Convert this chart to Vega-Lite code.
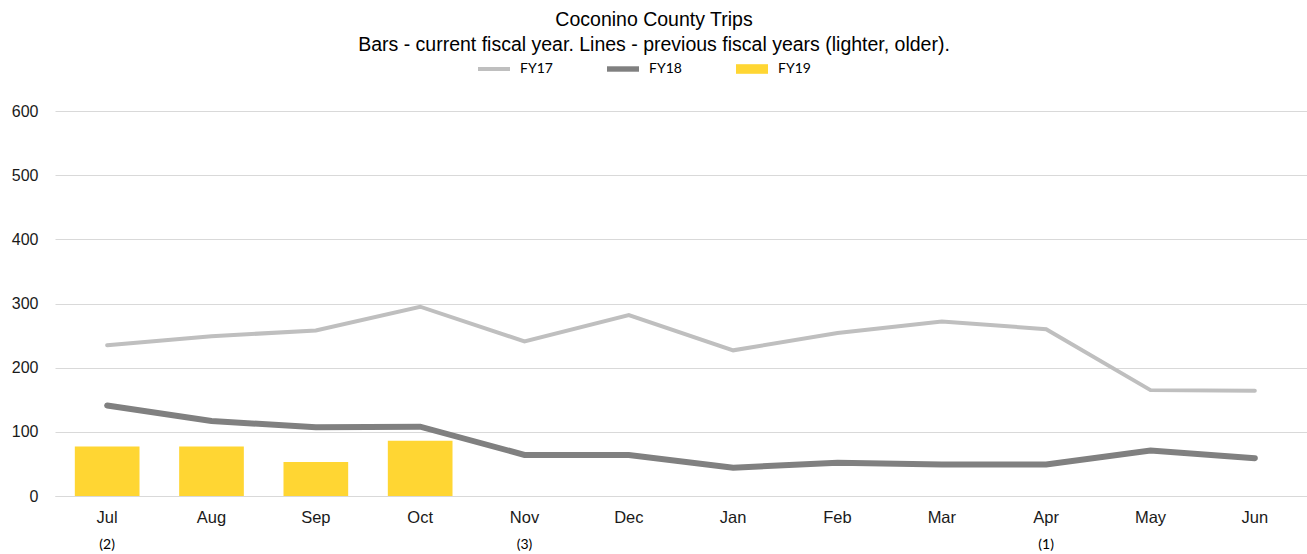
{
  "$schema": "https://vega.github.io/schema/vega-lite/v6.json",
  "autosize": "none",
  "width": 1252,
  "height": 385,
  "padding": {"left": 55, "top": 111, "right": 0, "bottom": 58},
  "background": "white",
  "config": {
    "view": {"stroke": null},
    "font": "Liberation Sans"
  },
  "title": {
    "text": ["Coconino County Trips", "Bars - current fiscal year. Lines - previous fiscal years (lighter, older)."],
    "font": "Liberation Sans",
    "fontSize": 19.5,
    "fontWeight": "normal",
    "color": "#000000",
    "lineHeight": 25,
    "anchor": "middle",
    "dx": -27,
    "offset": -2
  },
  "data": {
    "values": [
      {"month": "Jul", "year": "FY17", "value": 235},
      {"month": "Aug", "year": "FY17", "value": 249},
      {"month": "Sep", "year": "FY17", "value": 258},
      {"month": "Oct", "year": "FY17", "value": 295},
      {"month": "Nov", "year": "FY17", "value": 241},
      {"month": "Dec", "year": "FY17", "value": 282},
      {"month": "Jan", "year": "FY17", "value": 227},
      {"month": "Feb", "year": "FY17", "value": 254},
      {"month": "Mar", "year": "FY17", "value": 272},
      {"month": "Apr", "year": "FY17", "value": 260},
      {"month": "May", "year": "FY17", "value": 165},
      {"month": "Jun", "year": "FY17", "value": 164},
      {"month": "Jul", "year": "FY18", "value": 141},
      {"month": "Aug", "year": "FY18", "value": 117},
      {"month": "Sep", "year": "FY18", "value": 107},
      {"month": "Oct", "year": "FY18", "value": 108},
      {"month": "Nov", "year": "FY18", "value": 64},
      {"month": "Dec", "year": "FY18", "value": 64},
      {"month": "Jan", "year": "FY18", "value": 44},
      {"month": "Feb", "year": "FY18", "value": 52},
      {"month": "Mar", "year": "FY18", "value": 49},
      {"month": "Apr", "year": "FY18", "value": 49},
      {"month": "May", "year": "FY18", "value": 71},
      {"month": "Jun", "year": "FY18", "value": 59},
      {"month": "Jul", "year": "FY19", "value": 77},
      {"month": "Aug", "year": "FY19", "value": 77},
      {"month": "Sep", "year": "FY19", "value": 53},
      {"month": "Oct", "year": "FY19", "value": 86}
    ]
  },
  "encoding": {
    "x": {
      "field": "month",
      "type": "nominal",
      "sort": ["Jul", "Aug", "Sep", "Oct", "Nov", "Dec", "Jan", "Feb", "Mar", "Apr", "May", "Jun"],
      "scale": {"paddingInner": 0.38, "paddingOuter": 0.19},
      "title": null
    },
    "y": {
      "field": "value",
      "type": "quantitative",
      "scale": {"domain": [0, 600]},
      "title": null,
      "axis": {
        "values": [0, 100, 200, 300, 400, 500, 600],
        "domain": false,
        "ticks": false,
        "labelPadding": 17,
        "labelFont": "Liberation Sans",
        "labelFontSize": 16,
        "labelColor": "#1a1a1a",
        "gridColor": "#d9d9d9",
        "gridWidth": 1
      }
    },
    "color": {
      "field": "year",
      "type": "nominal",
      "scale": {"domain": ["FY17", "FY18", "FY19"], "range": ["#bfbfbf", "#808080", "#ffd633"]},
      "legend": {
        "title": null,
        "orient": "none",
        "direction": "horizontal",
        "legendX": 423,
        "legendY": -58,
        "columns": 3,
        "gridAlign": "all",
        "columnPadding": 54,
        "labelFont": "Lato",
        "labelFontSize": 14,
        "labelColor": "#000000",
        "labelOffset": 10,
        "symbolSize": 1024,
        "symbolType": "M-1,-0.125H1V0.125H-1Z",
        "encode": {
          "symbols": {
            "update": {
              "shape": {"signal": "datum.value === 'FY19' ? 'M-1,-0.3H1V0.3H-1Z' : (datum.value === 'FY18' ? 'M-1,-0.17H1V0.17H-1Z' : 'M-1,-0.125H1V0.125H-1Z')"},
              "size": {"value": 1024},
              "fill": {"scale": "color", "field": "value"},
              "fillOpacity": {"value": 1},
              "strokeWidth": {"value": 0},
              "opacity": {"value": 1}
            }
          }
        }
      }
    }
  },
  "layer": [
    {
      "transform": [{"filter": "datum.year === 'FY19'"}],
      "mark": {"type": "bar"},
      "encoding": {
        "x": {
          "field": "month",
          "type": "nominal",
          "sort": ["Jul", "Aug", "Sep", "Oct", "Nov", "Dec", "Jan", "Feb", "Mar", "Apr", "May", "Jun"],
          "title": null,
          "axis": {
            "orient": "bottom",
            "domain": false,
            "ticks": false,
            "grid": false,
            "labelAngle": 0,
            "labelPadding": 41,
            "labelFont": "Lato",
            "labelFontSize": 14,
            "labelColor": "#000000",
            "labelExpr": "datum.value === 'Jul' ? '(2)' : (datum.value === 'Nov' ? '(3)' : (datum.value === 'Apr' ? '(1)' : ''))"
          }
        }
      }
    },
    {
      "transform": [{"filter": "datum.year !== 'FY19'"}],
      "mark": {"type": "line", "strokeCap": "round", "strokeJoin": "miter"},
      "encoding": {
        "x": {
          "field": "month",
          "type": "nominal",
          "sort": ["Jul", "Aug", "Sep", "Oct", "Nov", "Dec", "Jan", "Feb", "Mar", "Apr", "May", "Jun"],
          "title": null,
          "axis": {
            "orient": "bottom",
            "domainColor": "#d9d9d9",
            "ticks": false,
            "grid": false,
            "labelAngle": 0,
            "labelPadding": 13,
            "labelFont": "Liberation Sans",
            "labelFontSize": 16.5,
            "labelColor": "#1a1a1a"
          }
        },
        "strokeWidth": {
          "field": "year",
          "type": "nominal",
          "scale": {"domain": ["FY17", "FY18"], "range": [4, 6]},
          "legend": null
        }
      }
    }
  ],
  "resolve": {"axis": {"x": "independent"}}
}
